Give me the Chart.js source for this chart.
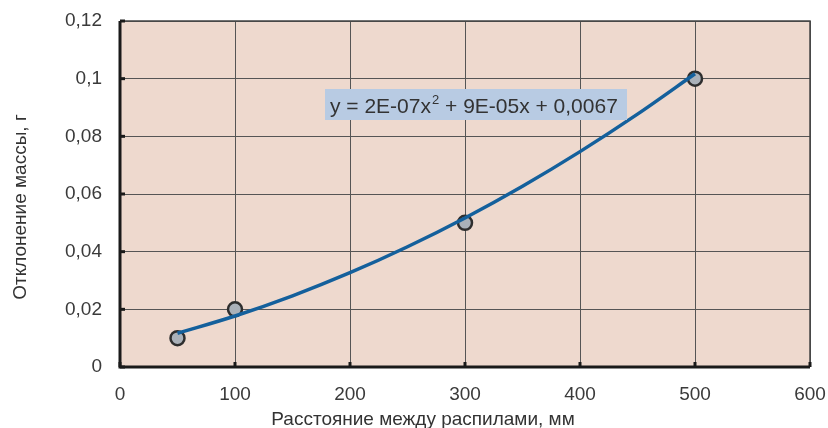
<!DOCTYPE html>
<html>
<head>
<meta charset="utf-8">
<script src="https://cdn.jsdelivr.net/npm/chart.js@4/dist/chart.umd.min.js"></script>
<style>
  html, body { margin: 0; padding: 0; background: #fff; }
  canvas { display: block; }
</style>
</head>
<body>
<canvas id="grafico" width="828" height="428"></canvas>
<script>
// Datos
const distancias = [50, 100, 300, 500];
const desviaciones = [0.01, 0.02, 0.05, 0.1];
// Linea de tendencia
const tendenciaX = [50, 100, 150, 200, 250, 300, 350, 400, 450, 500];
const tendenciaY = [0.0117, 0.0177, 0.0247, 0.0327, 0.0417, 0.0517, 0.0627, 0.0747, 0.0877, 0.1017];
const ticksX = [0, 100, 200, 300, 400, 500, 600];
const ticksY = ["0", "0,02", "0,04", "0,06", "0,08", "0,1", "0,12"];
const ecuacion = ["y = 2E-07x", "2", " + 9E-05x + 0,0067"];
const tituloX = "Расстояние между распилами, мм";
const tituloY = "Отклонение массы, г";

const FUENTE = "'Liberation Sans', Arial, sans-serif";

// Plugin que pinta fondo, bordes, marcas, titulos y ecuacion
const decoracion = {
  id: 'decoracion',
  beforeDraw(chart) {
    const a = chart.chartArea, c = chart.ctx;
    c.save();
    c.fillStyle = '#eed9ce';
    c.fillRect(a.left, a.top, a.right - a.left, a.bottom - a.top);
    c.restore();
  },
  afterDatasetsDraw(chart) {
    const a = chart.chartArea, c = chart.ctx;
    const sx = chart.scales.x, sy = chart.scales.y;
    c.save();
    // bordes finos arriba y derecha
    c.strokeStyle = '#444';
    c.lineWidth = 1.5;
    c.beginPath();
    c.moveTo(a.left, a.top); c.lineTo(a.right, a.top); c.lineTo(a.right, a.bottom);
    c.stroke();
    // ejes gruesos
    c.strokeStyle = '#1a1a1a';
    c.lineWidth = 3;
    c.beginPath();
    c.moveTo(a.left, a.top); c.lineTo(a.left, a.bottom); c.lineTo(a.right, a.bottom);
    c.stroke();
    // marcas
    for (let i = 0; i < ticksY.length; i++) {
      const y = sy.getPixelForValue(i * 0.02);
      c.beginPath(); c.moveTo(a.left, y); c.lineTo(a.left + 5, y); c.stroke();
    }
    for (let i = 0; i < ticksX.length; i++) {
      const x = sx.getPixelForValue(ticksX[i]);
      c.beginPath(); c.moveTo(x, a.bottom); c.lineTo(x, a.bottom - 5); c.stroke();
    }
    // ecuacion
    c.fillStyle = '#b8cbe3';
    c.fillRect(325, 89, 302, 31);
    c.fillStyle = '#333';
    c.textBaseline = 'alphabetic';
    c.font = '21px ' + FUENTE;
    let x = 330;
    c.fillText(ecuacion[0], x, 113);
    x += c.measureText(ecuacion[0]).width + 1;
    c.font = '13px ' + FUENTE;
    c.fillText(ecuacion[1], x, 104);
    x += c.measureText(ecuacion[1]).width;
    c.font = '21px ' + FUENTE;
    c.fillText(ecuacion[2], x, 113);
    // titulos de ejes
    c.fillStyle = '#333';
    c.textAlign = 'center';
    c.textBaseline = 'middle';
    c.font = '19px ' + FUENTE;
    c.fillText(tituloX, 423, 420);
    c.translate(21, 207);
    c.rotate(-Math.PI / 2);
    c.fillText(tituloY, 0, 0);
    c.restore();
  }
};

const ctx = document.getElementById('grafico');
new Chart(ctx, {
  type: 'scatter',
  data: {
    datasets: [
      {
        type: 'line',
        data: tendenciaX.map((v, i) => ({ x: v, y: tendenciaY[i] })),
        borderColor: '#14609c',
        borderWidth: 3.5,
        pointRadius: 0,
        cubicInterpolationMode: 'monotone',
        fill: false,
        order: 1
      },
      {
        data: distancias.map((v, i) => ({ x: v, y: desviaciones[i] })),
        backgroundColor: '#aab1b9',
        borderColor: '#2e2e2e',
        borderWidth: 2.5,
        pointRadius: 7,
        order: 2
      }
    ]
  },
  options: {
    responsive: false,
    animation: false,
    layout: { padding: { top: 21, right: 18, left: 0, bottom: 0 } },
    plugins: { legend: { display: false }, tooltip: { enabled: false } },
    scales: {
      x: {
        type: 'linear', min: 0, max: 600,
        afterFit: (s) => { s.height = 61; s.paddingLeft = 0; s.paddingRight = 0; },
        afterBuildTicks: (s) => { s.ticks = ticksX.map(v => ({ value: v })); },
        grid: { color: '#555', lineWidth: 1, drawTicks: false },
        border: { display: false },
        ticks: { padding: 16, color: '#3a3a3a', font: { family: FUENTE, size: 19 } }
      },
      y: {
        type: 'linear', min: 0, max: 0.12,
        afterFit: (s) => { s.width = 120; s.paddingTop = 0; s.paddingBottom = 0; },
        afterBuildTicks: (s) => { s.ticks = ticksY.map((t, i) => ({ value: i * 0.02 })); },
        grid: { color: '#555', lineWidth: 1, drawTicks: false },
        border: { display: false },
        ticks: {
          padding: 18, color: '#3a3a3a', font: { family: FUENTE, size: 19 },
          callback: (v, i) => ticksY[i]
        }
      }
    }
  },
  plugins: [decoracion]
});
</script>
</body>
</html>
